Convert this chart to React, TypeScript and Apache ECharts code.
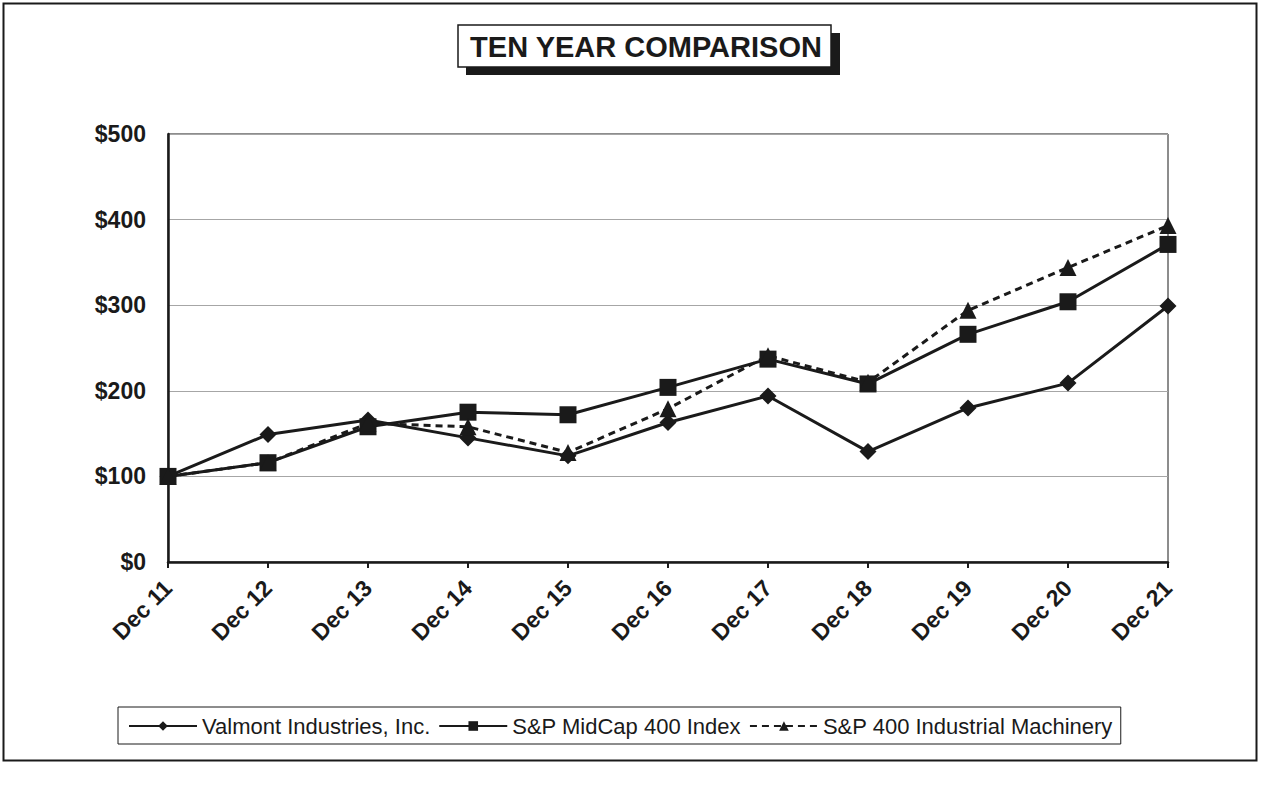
import React, { useEffect, useRef } from "react";
import * as echarts from "echarts";

const categories = ["Dec 11", "Dec 12", "Dec 13", "Dec 14", "Dec 15", "Dec 16", "Dec 17", "Dec 18", "Dec 19", "Dec 20", "Dec 21"];
const valmont = [100, 149, 166, 145, 124, 163, 194, 129, 180, 209, 299];
const midcap = [100, 116, 158, 175, 172, 204, 237, 208, 266, 304, 371];
const machinery = [100, 116, 162, 158, 128, 179, 241, 210, 294, 344, 393];
const seriesNames = ["Valmont Industries, Inc.", "S&P MidCap 400 Index", "S&P 400 Industrial Machinery"];
const titleText = "TEN YEAR COMPARISON";

const INK = "#1a1a1a";
const FONT = "'Liberation Sans', Arial, sans-serif";

export default function App() {
  const ref = useRef<HTMLDivElement>(null);
  useEffect(() => {
    document.body.style.margin = "0";
    const chart = echarts.init(ref.current!, null, { renderer: "svg" });
    const mk = (name: string, data: number[], symbol: string, size: number, dashed: boolean) => ({
      name,
      type: "line",
      data,
      symbol,
      symbolSize: size,
      showAllSymbol: true,
      itemStyle: { color: INK },
      lineStyle: { color: INK, width: 3, type: dashed ? [7, 5] : "solid" },
      z: 3,
    });
    chart.setOption({
      animation: false,
      backgroundColor: "#fff",
      textStyle: { fontFamily: FONT },
      grid: { left: 168, right: 96, top: 134, bottom: 232, show: true, borderColor: INK, borderWidth: 1 },
      xAxis: {
        type: "category",
        data: categories,
        boundaryGap: false,
        axisLine: { lineStyle: { color: INK, width: 2.5 } },
        axisTick: { show: true, length: 6, alignWithLabel: true, lineStyle: { color: INK, width: 2 } },
        axisLabel: { rotate: 45, margin: 22, color: INK, fontWeight: "bold", fontSize: 23, fontFamily: FONT, interval: 0 },
        splitLine: { show: false },
      },
      yAxis: {
        type: "value",
        min: 0,
        max: 500,
        interval: 100,
        axisLine: { show: true, lineStyle: { color: INK, width: 2.5 } },
        axisTick: { show: false },
        axisLabel: { formatter: "${value}", margin: 22, color: INK, fontWeight: "bold", fontSize: 23, fontFamily: FONT },
        splitLine: { show: true, lineStyle: { color: "#a6a6a6", width: 1 } },
      },
      legend: {
        left: 118,
        top: 707,
        itemWidth: 68,
        itemHeight: 12,
        itemGap: 8,
        padding: [8, 8, 7, 10],
        borderColor: INK,
        borderWidth: 1,
        backgroundColor: "#fff",
        textStyle: { color: INK, fontSize: 22, fontFamily: FONT },
        data: seriesNames,
      },
      graphic: [
        { type: "rect", left: 1, top: 1, shape: { width: 1253, height: 757 }, style: { fill: "none", stroke: INK, lineWidth: 2 }, z: 0 },
        { type: "rect", shape: { x: 466, y: 33, width: 374, height: 42 }, style: { fill: INK }, z: 10 },
        { type: "rect", shape: { x: 458, y: 25, width: 373, height: 42 }, style: { fill: "#fff", stroke: INK, lineWidth: 1.5 }, z: 11 },
        {
          type: "text",
          x: 646,
          y: 47,
          style: { text: titleText, fill: INK, font: `bold 29px ${FONT}`, textAlign: "center", textVerticalAlign: "middle" },
          z: 12,
        },
      ],
      series: [
        mk(seriesNames[0], valmont, "diamond", 17, false),
        mk(seriesNames[1], midcap, "rect", 17, false),
        mk(seriesNames[2], machinery, "triangle", 17, true),
      ],
    });
    return () => chart.dispose();
  }, []);
  return <div ref={ref} style={{ width: 1264, height: 794 }} />;
}
